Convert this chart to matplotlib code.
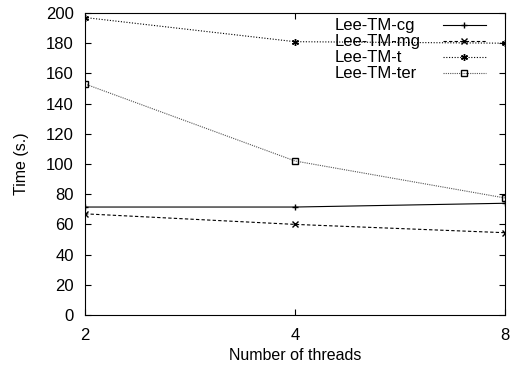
import matplotlib
matplotlib.use('Agg')
import matplotlib.pyplot as plt
from matplotlib.lines import Line2D
from matplotlib.ticker import FixedLocator, FixedFormatter, NullLocator

threads = [2, 4, 8]
cg = [71.5, 71.5, 74]
mg = [67, 60, 54.5]
t = [197, 181, 180]
ter = [153, 102, 77.5]
labels = ['Lee-TM-cg', 'Lee-TM-mg', 'Lee-TM-t', 'Lee-TM-ter']

plt.rcParams['font.family'] = ['Liberation Sans', 'DejaVu Sans']
plt.rcParams['font.size'] = 11.5

fig = plt.figure(figsize=(5.11, 3.70), dpi=100)
ax = fig.add_axes([85 / 511, 1 - 315 / 370, 420 / 511, 302 / 370])

styles = [
    dict(color='black', lw=0.8, marker='+', ms=5),
    dict(color='black', lw=0.8, ls=(0, (3, 2)), marker='x', ms=4),
    dict(color='black', lw=0.8, ls=(0, (1, 1.5)), marker=(6, 2, 0), ms=5),
    dict(color='#555555', lw=0.8, ls=(0, (1, 1)), marker='s', ms=4, mfc='none', mec='black'),
]
for ys, st, lab in zip([cg, mg, t, ter], styles, labels):
    ax.plot(threads, ys, label=lab, **st)

# gnuplot-like key: left-aligned text, sample line on the right
for i, (st, lab) in enumerate(zip(styles, labels)):
    yk = 0.960 - i * 0.053
    ax.text(0.595, yk, lab, transform=ax.transAxes, fontsize=12, va='center', ha='left')
    ax.add_line(Line2D([0.852, 0.903, 0.954], [yk, yk, yk], transform=ax.transAxes,
                       markevery=[1], clip_on=False, **st))

ax.set_xscale('log', base=2)
ax.set_xlim(2, 8)
ax.xaxis.set_major_locator(FixedLocator(threads))
ax.xaxis.set_major_formatter(FixedFormatter([str(v) for v in threads]))
ax.xaxis.set_minor_locator(NullLocator())
ax.set_ylim(0, 200)
ax.set_yticks(range(0, 201, 20))
ax.tick_params(direction='in', length=4, top=True, right=True, width=0.8, labelsize=12)
ax.tick_params(axis='x', pad=9)
ax.tick_params(axis='y', pad=8)

ax.set_xlabel('Number of threads', labelpad=4)
ax.set_ylabel('Time (s.)', labelpad=12)

fig.savefig('out.png', dpi=100)
